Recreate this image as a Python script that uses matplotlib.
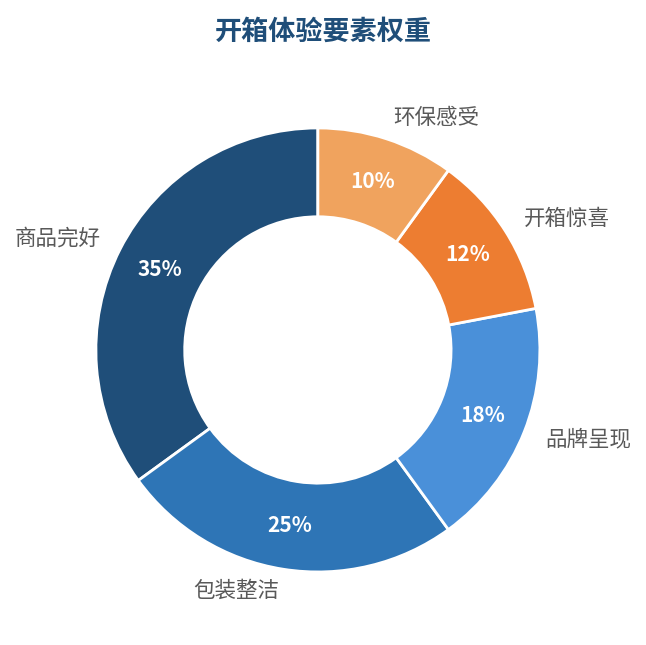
import matplotlib
matplotlib.use("Agg")
import matplotlib.pyplot as plt

plt.rcParams['font.family'] = ['Noto Sans CJK SC', 'DejaVu Sans']

labels = ["商品完好", "包装整洁", "品牌呈现", "开箱惊喜", "环保感受"]
weights = [35, 25, 18, 12, 10]
colors = ["#1f4e79", "#2e75b6", "#4a90d9", "#ed7d31", "#f0a35e"]

fig = plt.figure(figsize=(6.46, 6.45), dpi=100)
ax = fig.add_axes([0.0, 0.0, 1.0, 0.92])

wedges, texts, autotexts = ax.pie(
    weights, labels=labels, colors=colors, startangle=90, counterclock=True,
    autopct='%d%%', pctdistance=0.8, labeldistance=1.1,
    wedgeprops=dict(width=0.4, edgecolor='white', linewidth=2),
    textprops=dict(fontsize=15.5, color='#595959'),
    radius=1.0,
)
for t in autotexts:
    t.set_color('white')
    t.set_fontweight('bold')
    t.set_fontsize(15)

ax.set_aspect('equal')
ax.set_xlim(-1.432, 1.478)
ax.set_ylim(-1.329, 1.344)

fig.suptitle("开箱体验要素权重", fontsize=19.5, fontweight='bold', color='#1f4e79', y=0.973)

fig.savefig("out.png", dpi=100, facecolor='white')
